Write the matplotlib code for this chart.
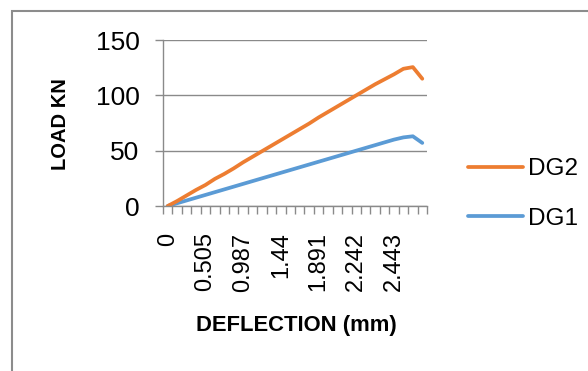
# Load vs deflection chart for DG1 / DG2 (Excel style line chart)

import numpy as np
import matplotlib
matplotlib.use("Agg")
import matplotlib.pyplot as plt
from matplotlib.patches import Rectangle

# ─── DATA ─────────────────────────────────────────────────────
deflection = [0, 0.13, 0.26, 0.385, 0.505, 0.63, 0.75, 0.87, 0.987, 1.10,
              1.215, 1.33, 1.44, 1.555, 1.67, 1.78, 1.891, 1.98, 2.07, 2.16,
              2.242, 2.30, 2.35, 2.40, 2.443, 2.48, 2.52, 2.56]
load_dg2 = [0, 4.5, 9.5, 14.5, 19, 24.5, 29, 34, 39.5, 44.5,
            49.5, 54.5, 59.5, 64.5, 69.5, 74.5, 80, 85, 90, 95,
            100, 105, 110, 114.5, 119, 124, 125.5, 115]
load_dg1 = [0, 2.5, 5, 7.5, 10, 12.5, 15, 17.5, 20, 22.5,
            25, 27.5, 30, 32.5, 35, 37.5, 40, 42.5, 45, 47.5,
            50, 52.5, 55, 57.5, 60, 62, 63, 57]
y_ticks = [0, 50, 100, 150]
label_every = 4

# ─── STYLE ────────────────────────────────────────────────────
ORANGE = "#ED7D31"
BLUE   = "#5B9BD5"
GRID   = "#8A8A8A"
FONT   = ["Liberation Sans", "DejaVu Sans"]
W, H = 588, 371
# ──────────────────────────────────────────────────────────────

fig = plt.figure(figsize=(W / 100, H / 100), dpi=100)
ax = fig.add_axes([163 / W, 1 - 206 / H, (427 - 163) / W, (206 - 40) / H])

x = np.arange(len(deflection))
ax.plot(x, load_dg1, color=BLUE, lw=2.7, label="DG1", solid_capstyle="round")
ax.plot(x, load_dg2, color=ORANGE, lw=2.7, label="DG2", solid_capstyle="round")

ax.set_xlim(-0.5, len(deflection) - 0.5)
ax.set_ylim(0, 150)

# y axis
ax.set_yticks(y_ticks)
ax.set_yticklabels([str(v) for v in y_ticks], family=FONT, fontsize=19)
ax.yaxis.grid(True, color=GRID, lw=1.0)
ax.set_axisbelow(True)
ax.tick_params(axis="y", direction="out", length=6, width=1, color=GRID, pad=11)

# x axis: category labels every 4th point, tick marks between categories
lab_idx = x[::label_every]
ax.set_xticks(lab_idx)
ax.set_xticklabels([f"{deflection[i]:g}" for i in lab_idx], rotation=90,
                   family=FONT, fontsize=17, va="top")
ax.set_xticks(np.arange(len(deflection) + 1) - 0.5, minor=True)
ax.tick_params(axis="x", which="major", length=0, pad=19)
ax.tick_params(axis="x", which="minor", direction="out", length=6, width=1, color=GRID)

for side in ["top", "right"]:
    ax.spines[side].set_visible(False)
for side in ["left", "bottom"]:
    ax.spines[side].set_color(GRID)
    ax.spines[side].set_linewidth(1.0)

# axis titles
fig.text(296 / W, 1 - 325 / H, "DEFLECTION (mm)", ha="center", va="center",
         family=FONT, fontsize=15.8, fontweight="bold")
fig.text(60 / W, 1 - 124 / H, "LOAD KN", ha="center", va="center", rotation=90,
         family=FONT, fontsize=14.5, fontweight="bold")

# legend: DG2 listed first
handles, labels = ax.get_legend_handles_labels()
fig.legend(handles[::-1], labels[::-1], loc="center left",
           bbox_to_anchor=(468 / W, 1 - 194 / H), frameon=False,
           prop={"family": FONT, "size": 17.5}, handlelength=2.25,
           handletextpad=0.2, labelspacing=1.15, borderpad=0, borderaxespad=0)

# chart area border (only left and top edges fall inside the picture)
fig.add_artist(Rectangle((12 / W, -0.1), 1.2, 1 - 11 / H + 0.1, transform=fig.transFigure,
                         fill=False, edgecolor="#8C8C8C", lw=1.5))

fig.savefig("out.png", dpi=100)
